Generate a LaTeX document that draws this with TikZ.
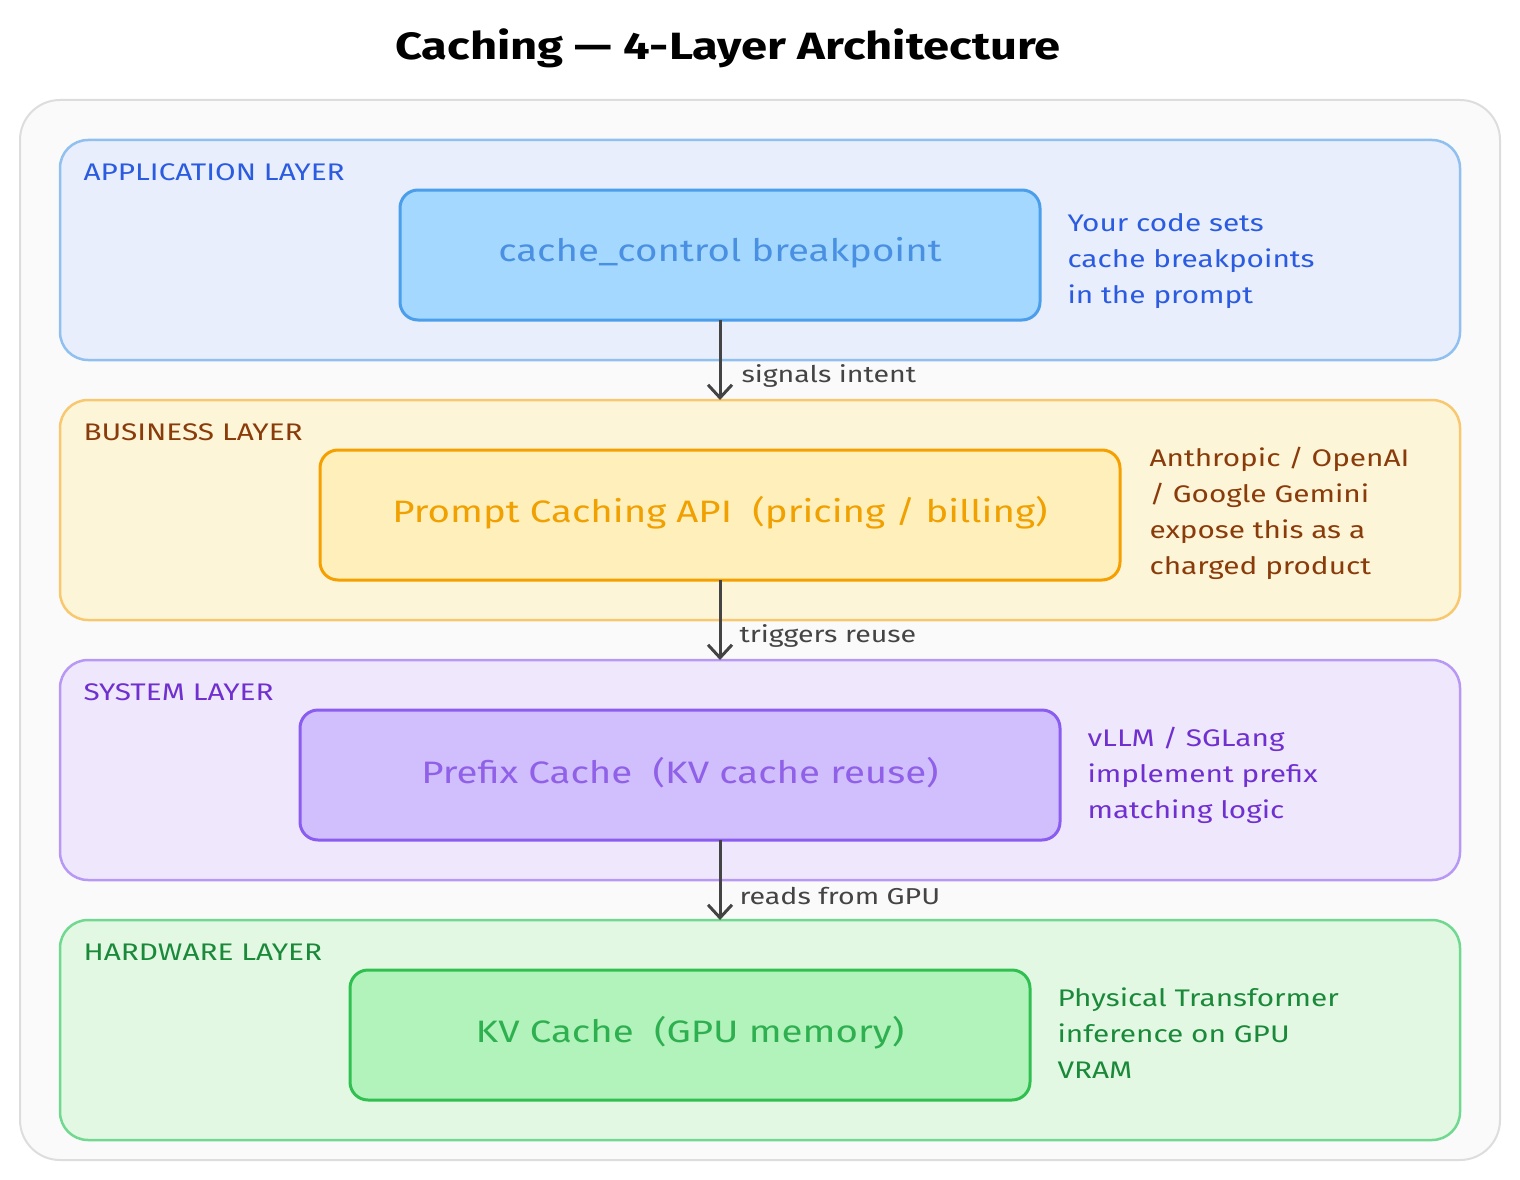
\documentclass[tikz,border=0pt]{standalone}
\usepackage{fontspec}
\setmainfont[FakeStretch=1.24]{Fira Sans}
\usetikzlibrary{arrows.meta}
\definecolor{bgf}{HTML}{FAFAFA}\definecolor{bgd}{HTML}{DDDDDD}
\definecolor{af}{HTML}{E8EEFC}\definecolor{ad}{HTML}{90C0F0}\definecolor{at}{HTML}{2A5BE0}
\definecolor{abf}{HTML}{A5D8FF}\definecolor{abd}{HTML}{4A9EEA}\definecolor{abt}{HTML}{4A90E2}
\definecolor{bf}{HTML}{FDF5D8}\definecolor{bd}{HTML}{F8C870}\definecolor{bt}{HTML}{8A3B0A}
\definecolor{bbf}{HTML}{FFF0BB}\definecolor{bbd}{HTML}{F5A000}\definecolor{bbt}{HTML}{F0A000}
\definecolor{sf}{HTML}{EFE8FC}\definecolor{sd}{HTML}{B898F5}\definecolor{st}{HTML}{7030D0}
\definecolor{sbf}{HTML}{D0BFFC}\definecolor{sbd}{HTML}{8A5CF0}\definecolor{sbt}{HTML}{9060E8}
\definecolor{hf}{HTML}{E3F8E3}\definecolor{hd}{HTML}{70D890}\definecolor{ht}{HTML}{1A8A3A}
\definecolor{hbf}{HTML}{B2F2BB}\definecolor{hbd}{HTML}{2FC050}\definecolor{hbt}{HTML}{2FB050}
\definecolor{arr}{HTML}{444444}
\begin{document}
\begin{tikzpicture}[x=1pt,y=-1pt,
 layer/.style={draw=#1,line width=2.5pt,rounded corners=28pt},
 box/.style={draw=#1,line width=3pt,rounded corners=18pt},
 lab/.style={anchor=west,font=\fontsize{24}{28}\selectfont,text=#1},
 btxt/.style={font=\fontsize{31}{36}\selectfont,text=#1},
 note/.style={anchor=north west,align=left,font=\fontsize{24}{36}\selectfont,text=#1},
 arw/.style={draw=arr,line width=3pt,-{Straight Barb[length=13pt,width=24pt,line width=3pt]}},
 alab/.style={anchor=west,font=\fontsize{23}{26}\selectfont,text=arr}]
\useasboundingbox (0,0) rectangle (1520,1180);
\fill[white] (0,0) rectangle (1520,1180);
\draw[fill=bgf,draw=bgd,line width=2pt,rounded corners=40pt] (20,100) rectangle (1500,1160);
\node[font=\fontsize{38}{44}\selectfont\bfseries] (title) at (728,48) {Caching — 4-Layer Architecture};
% layers
\draw[layer=ad,fill=af] (60,140) rectangle (1460,360);
\draw[layer=bd,fill=bf] (60,400) rectangle (1460,620);
\draw[layer=sd,fill=sf] (60,660) rectangle (1460,880);
\draw[layer=hd,fill=hf] (60,920) rectangle (1460,1140);
\node[lab=at] (l1) at (80,172) {APPLICATION LAYER};
\node[lab=bt] (l2) at (80,432) {BUSINESS LAYER};
\node[lab=st] (l3) at (80,692) {SYSTEM LAYER};
\node[lab=ht] (l4) at (80,952) {HARDWARE LAYER};
% boxes
\draw[box=abd,fill=abf] (400,190) rectangle (1040,320);
\draw[box=bbd,fill=bbf] (320,450) rectangle (1120,580);
\draw[box=sbd,fill=sbf] (300,710) rectangle (1060,840);
\draw[box=hbd,fill=hbf] (350,970) rectangle (1030,1100);
\node[btxt=abt] (b1) at (720,253) {cache\_control breakpoint};
\node[btxt=bbt] (b2) at (720,513) {Prompt Caching API\ \ (pricing / billing)};
\node[btxt=sbt] (b3) at (680,773) {Prefix Cache\ \ (KV cache reuse)};
\node[btxt=hbt] (b4) at (690,1033) {KV Cache\ \ (GPU memory)};
\coordinate (t1) at (720,320); \coordinate (h1) at (720,400);
\coordinate (t2) at (720,580); \coordinate (h2) at (720,660);
\coordinate (t3) at (720,840); \coordinate (h3) at (720,920);
% notes
\node[note=at] (n1) at (1064,210) {Your code sets\\cache breakpoints\\in the prompt};
\node[note=bt] (n2) at (1146,444) {Anthropic / OpenAI\\/ Google Gemini\\expose this as a\\charged product};
\node[note=st] (n3) at (1084,724) {vLLM / SGLang\\implement prefix\\matching logic};
\node[note=ht] (n4) at (1054,984) {Physical Transformer\\inference on GPU\\VRAM};
% arrows
\draw[arw] (t1) -- (h1);
\draw[arw] (t2) -- (h2);
\draw[arw] (t3) -- (h3);
\node[alab] (a1) at (738,376) {signals intent};
\node[alab] (a2) at (736,636) {triggers reuse};
\node[alab] (a3) at (736,896) {reads from GPU};
\end{tikzpicture}
\end{document}
